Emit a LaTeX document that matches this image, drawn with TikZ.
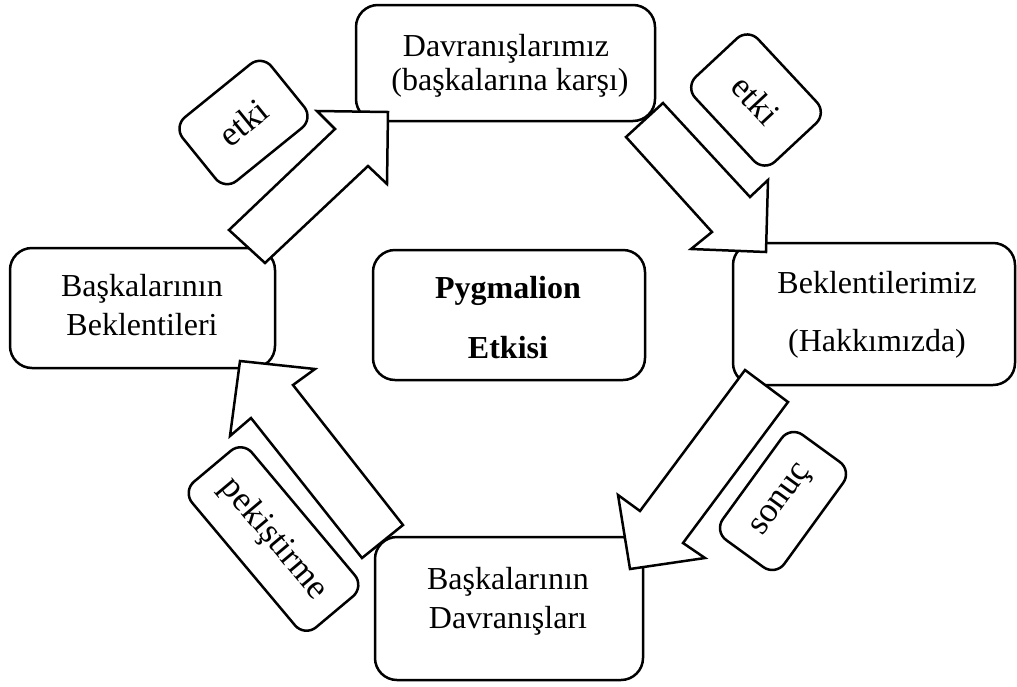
\documentclass[tikz,border=0pt]{standalone}
\usepackage{fontspec}
\setmainfont{Liberation Serif}
\begin{document}
\begin{tikzpicture}[x=1pt,y=-1pt,
  box/.style={draw, line width=2.5pt, rounded corners=22pt, fill=white, inner sep=0pt},
  lbl/.style={draw, line width=2.5pt, rounded corners=15pt, fill=white, inner sep=0pt,
              font=\fontsize{35}{40}\selectfont},
  txt/.style={anchor=base, inner sep=0pt, font=\fontsize{32}{38}\selectfont},
  btxt/.style={txt, font=\fontsize{32}{38}\selectfont\bfseries},
  blockarrow/.style={draw, fill=white, line width=2.5pt, line join=miter}]

% page area
\fill[white] (0,0) rectangle (1017,686);
\useasboundingbox (0,0) rectangle (1017,686);

% main boxes
\node[box, minimum width=299pt, minimum height=116pt] (top)    at (505.5,63)  {};
\node[box, minimum width=265pt, minimum height=120pt] (left)   at (142.5,308) {};
\node[box, minimum width=282pt, minimum height=142pt] (right)  at (874,314)   {};
\node[box, minimum width=268pt, minimum height=143pt] (bottom) at (509,608.5) {};
\node[box, minimum width=272pt, minimum height=130pt] (center) at (509,315)   {};

% box texts
\node[txt] (top1)    at (506,56)  {Davranışlarımız};
\node[txt] (top2)    at (510,90)  {(başkalarına karşı)};
\node[txt] (left1)   at (142,296) {Başkalarının};
\node[txt] (left2)   at (142,335) {Beklentileri};
\node[txt] (right1)  at (877,293) {Beklentilerimiz};
\node[txt] (right2)  at (877,351) {(Hakkımızda)};
\node[txt] (bottom1) at (508,589) {Başkalarının};
\node[txt] (bottom2) at (508,628) {Davranışları};
\node[btxt] (center1) at (508,298) {Pygmalion};
\node[btxt] (center2) at (508,358) {Etkisi};

% block arrows around the cycle
\draw[blockarrow] (229,230) -- (335,129) -- (317,111) -- (388,112) -- (387,184) -- (368,166) -- (265,263) -- cycle;
\draw[blockarrow] (626,137) -- (663,103) -- (750,197) -- (768,180) -- (766,252) -- (691,249) -- (712,232) -- cycle;
\draw[blockarrow] (745,370) -- (788,402) -- (683,543) -- (705,558) -- (630,569) -- (618,495) -- (640,511) -- cycle;
\draw[blockarrow] (403,525) -- (362,558) -- (251,418) -- (230,436) -- (240,361) -- (315,369) -- (293,385) -- cycle;

% arrow labels
\node[lbl, minimum width=114pt, minimum height=82pt, rotate=39]  (l1) at (243.5,122.5) {etki};
\node[lbl, minimum width=116pt, minimum height=86pt, rotate=-47] (l2) at (756,100)     {etki};
\node[lbl, minimum width=130pt, minimum height=76pt, rotate=54]  (l3) at (783,501)     {sonuç};
\node[lbl, minimum width=190pt, minimum height=78pt, rotate=-50] (l4) at (273.5,539)   {pekiştirme};
\end{tikzpicture}
\end{document}
